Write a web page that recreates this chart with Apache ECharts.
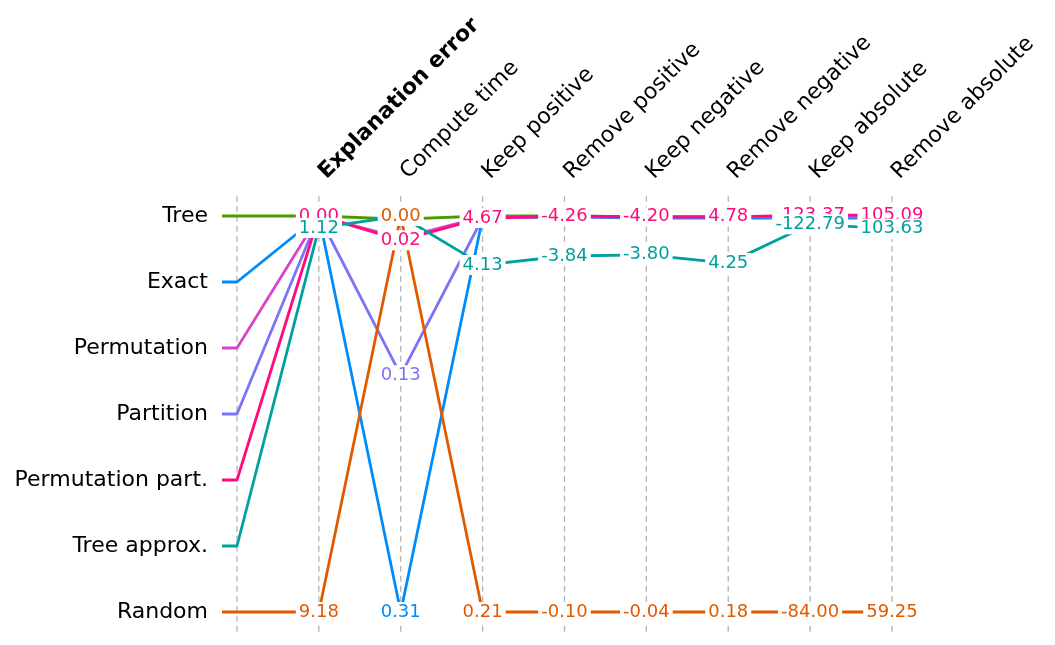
<!DOCTYPE html>
<html>
<head>
<meta charset="utf-8">
<script src="https://cdn.jsdelivr.net/npm/echarts@6/dist/echarts.min.js"></script>
<style>
 html,body{margin:0;padding:0;background:#fff;}
 #chart{width:1055px;height:645px;}
</style>
</head>
<body>
<div id="chart"></div>
<script>
// methods, top row first
var methods=['Tree','Exact','Permutation','Partition','Permutation part.','Tree approx.','Random'];
var colors =['#4b9b00','#008bf8','#d546cb','#7b74f7','#ff0b7c','#00a09e','#e05a00'];
var metrics=['Explanation error','Compute time','Keep positive','Remove positive',
             'Keep negative','Remove negative','Keep absolute','Remove absolute'];

// normalised position per metric (1 = top row, 0 = bottom row)
var treeScore      =[1.000,0.992,1.000,1.000,0.998,0.998,1.000,1.000];
var exactScore     =[1.000,0.000,0.995,0.998,0.995,0.995,0.995,0.995];
var permScore      =[1.000,0.944,0.998,0.998,0.998,0.998,1.000,1.000];
var partitionScore =[1.000,0.598,0.995,0.998,0.998,0.998,0.998,0.998];
var permPartScore  =[1.000,0.939,0.995,1.000,0.998,0.998,1.002,1.002];
var treeApproxScore=[0.970,1.000,0.876,0.899,0.902,0.881,0.979,0.968];
var randomScore    =[0.000,1.000,0.000,0.000,0.000,0.000,0.000,0.000];

// printed values (null = covered by another label)
var treeText      =[null,null,null,null,null,null,null,null];
var exactText     =[null,'0.31',null,null,null,null,null,null];
var permText      =[null,null,null,null,null,null,null,null];
var partitionText =[null,'0.13',null,null,null,null,null,null];
var permPartText  =['0.00','0.02','4.67','-4.26','-4.20','4.78','-123.37','105.09'];
var treeApproxText=['1.12',null,'4.13','-3.84','-3.80','4.25','-122.79','103.63'];
var randomText    =['9.18','0.00','0.21','-0.10','-0.04','0.18','-84.00','59.25'];

var scores=[treeScore,exactScore,permScore,partitionScore,permPartScore,treeApproxScore,randomScore];
var texts =[treeText,exactText,permText,partitionText,permPartText,treeApproxText,randomText];

var FONT='DejaVu Sans';
var nRows=methods.length-1;
var stubX=-0.183, gridTop=6.3, gridBottom=-0.3;
var colTicks=[1,2,3,4,5,6,7,8];

var series=[];
// dashed column guides
for(var c=0;c<=metrics.length;c++){
  series.push({type:'line',silent:true,clip:false,symbol:'none',z:1,
    lineStyle:{color:'#b4b4b4',width:1.3,type:[6,4]},
    data:[[c,gridBottom],[c,gridTop]]});
}
// method lines
methods.forEach(function(m,i){
  var row=nRows-i;
  var pts=[[stubX,row],[0,row]];
  scores[i].forEach(function(s,j){pts.push([j+1,s*nRows]);});
  series.push({type:'line',name:m,clip:false,symbol:'none',z:2,silent:true,
    lineStyle:{color:colors[i],width:2.8},data:pts});
});
// value labels, drawn after every line
methods.forEach(function(m,i){
  var pts=[];
  texts[i].forEach(function(t,j){
    if(t===null)return;
    pts.push({value:[j+1,scores[i][j]*nRows],label:{formatter:t}});
  });
  series.push({type:'scatter',clip:false,z:10+i,symbolSize:1,silent:true,
    itemStyle:{color:'#fff',opacity:1},
    label:{show:true,position:'inside',color:colors[i],fontSize:18,fontFamily:FONT,
      opacity:1,textBorderWidth:0,textShadowBlur:0,backgroundColor:'#fff',padding:[2,3,0,3]},
    data:pts});
});

var chart=echarts.init(document.getElementById('chart'),null,{renderer:'canvas'});
chart.setOption({
  backgroundColor:'#fff',
  animation:false,
  grid:{left:222,right:163,top:216,bottom:33},
  xAxis:{type:'value',position:'top',min:stubX,max:metrics.length,
    axisLine:{show:false},axisTick:{show:false},splitLine:{show:false},
    axisLabel:{customValues:colTicks,rotate:45,margin:37,padding:[0,0,0,5],
      fontSize:22,fontFamily:FONT,color:'#000',
      formatter:function(v){
        var name=metrics[Math.round(v)-1];
        return Math.round(v)===1?'{b|'+name+'}':name;
      },
      rich:{b:{fontWeight:'bold',fontSize:22,fontFamily:FONT,color:'#000'}}}},
  yAxis:{type:'value',min:0,max:nRows,interval:1,
    axisLine:{show:false},axisTick:{show:false},splitLine:{show:false},
    axisLabel:{margin:14,fontSize:22,fontFamily:FONT,color:'#000',
      formatter:function(v){return methods[nRows-v];}}},
  series:series
});
</script>
</body>
</html>
